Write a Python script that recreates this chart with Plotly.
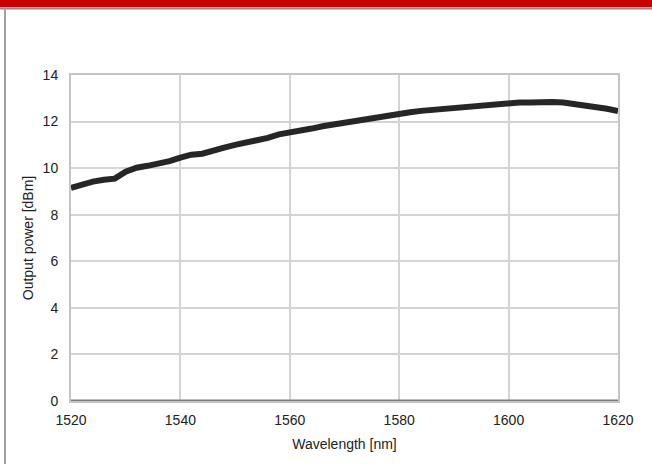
import plotly.graph_objects as go

# wavelength (nm) and output power (dBm)
wavelength = [1520, 1522, 1524, 1526, 1528, 1530, 1532, 1534, 1536, 1538,
              1540, 1542, 1544, 1546, 1548, 1550, 1552, 1554, 1556, 1558,
              1560, 1562, 1564, 1566, 1568, 1570, 1572, 1574, 1576, 1578,
              1580, 1582, 1584, 1586, 1588, 1590, 1592, 1594, 1596, 1598,
              1600, 1602, 1604, 1606, 1608, 1610, 1612, 1614, 1616, 1618, 1620]
power = [9.15, 9.30, 9.42, 9.50, 9.55, 9.85, 10.02, 10.10, 10.18, 10.30,
         10.45, 10.58, 10.62, 10.72, 10.88, 11.00, 11.08, 11.18, 11.30, 11.45,
         11.52, 11.60, 11.70, 11.80, 11.88, 11.96, 12.05, 12.12, 12.20, 12.28,
         12.33, 12.40, 12.46, 12.50, 12.55, 12.62, 12.64, 12.68, 12.75, 12.78,
         12.80, 12.82, 12.82, 12.85, 12.84, 12.82, 12.76, 12.72, 12.62, 12.55, 12.45]

x_ticks = [1520, 1540, 1560, 1580, 1600, 1620]
y_ticks = [0, 2, 4, 6, 8, 10, 12, 14]

W, H = 652, 464
L, R, T, B = 71, 34, 75, 62.5
pw, ph = W - L - R, H - T - B


def px_x(p):
    return (p - L) / pw


def px_y(p):
    return (H - B - p) / ph


font = dict(family="Liberation Sans, Arial, sans-serif", size=14, color="#222222")

fig = go.Figure()
fig.add_trace(go.Scatter(
    x=wavelength, y=power, mode="lines",
    line=dict(color="#262626", width=6),
    hoverinfo="x+y", showlegend=False,
))

shapes = [
    # red header strip
    dict(type="rect", xref="paper", yref="paper",
         x0=px_x(-2), x1=px_x(W + 2), y0=px_y(7), y1=px_y(-2),
         fillcolor="#cc0000", line=dict(width=0), layer="above"),
    # gray rule under header
    dict(type="line", xref="paper", yref="paper",
         x0=px_x(0), x1=px_x(W), y0=px_y(8.5), y1=px_y(8.5),
         line=dict(color="#8c8c8c", width=2)),
    # left frame
    dict(type="line", xref="paper", yref="paper",
         x0=px_x(5), x1=px_x(5), y0=px_y(8.5), y1=px_y(H + 2),
         line=dict(color="#a0a0a0", width=2)),
    # darker x axis line
    dict(type="line", xref="x", yref="y",
         x0=1520, x1=1620, y0=0, y1=0,
         line=dict(color="#7a7a7a", width=3), layer="above"),
]

fig.update_layout(
    width=W, height=H,
    margin=dict(l=L, r=R, t=T, b=B, pad=0),
    paper_bgcolor="white", plot_bgcolor="white",
    font=font,
    shapes=shapes,
    showlegend=False,
)
fig.update_xaxes(
    range=[1520, 1620], tickvals=x_ticks, ticks="",
    showgrid=True, gridcolor="#d4d4d4", gridwidth=2,
    showline=True, linecolor="#c4c4c4", linewidth=2, mirror=True,
    zeroline=False, ticklabelstandoff=5,
    title=dict(text="Wavelength [nm]", font=font, standoff=12),
)
fig.update_yaxes(
    range=[0, 14], tickvals=y_ticks, ticks="",
    showgrid=True, gridcolor="#d4d4d4", gridwidth=2,
    showline=True, linecolor="#c4c4c4", linewidth=2, mirror=True,
    zeroline=False, ticklabelstandoff=8,
    title=dict(text="Output power [dBm]", font=font, standoff=6),
)

fig.write_html("out.html", config={"displayModeBar": False},
               post_script="document.body.style.margin='0';")
